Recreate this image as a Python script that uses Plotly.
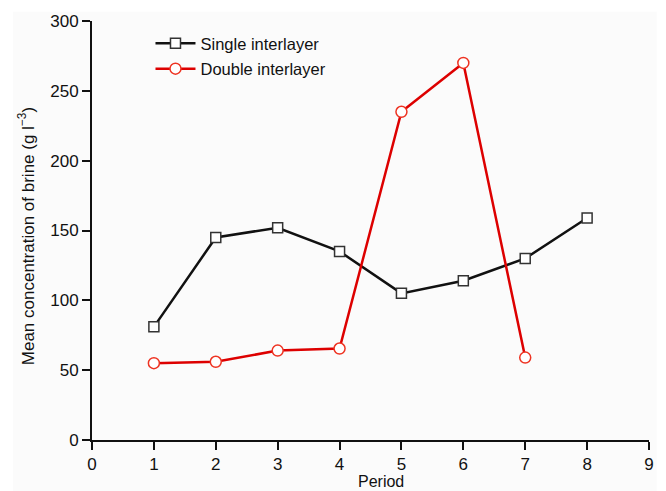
import plotly.graph_objects as go

periods_single = [1, 2, 3, 4, 5, 6, 7, 8]
single = [81, 145, 152, 135, 105, 114, 130, 159]
periods_double = [1, 2, 3, 4, 5, 6, 7]
double = [55, 56, 64, 65.5, 235, 270, 59]
x_ticks = [0, 1, 2, 3, 4, 5, 6, 7, 8, 9]
y_ticks = [0, 50, 100, 150, 200, 250, 300]

fig = go.Figure()
fig.add_trace(go.Scatter(
    x=periods_single, y=single, name="Single interlayer", mode="lines+markers",
    legendgroup="a",
    line=dict(color="#111111", width=2.5),
    marker=dict(symbol="square", size=10, color="white", line=dict(color="#333333", width=1.5)),
))
fig.add_trace(go.Scatter(
    x=periods_double, y=double, name="Double interlayer", mode="lines+markers",
    legendgroup="b",
    line=dict(color="#dd0000", width=2.5),
    marker=dict(symbol="circle", size=11, color="white", line=dict(color="#ee3322", width=1.5)),
))

font = "Liberation Sans, Arial, sans-serif"
fig.update_layout(
    width=666, height=491,
    margin=dict(l=92, r=17, t=21, b=51),
    paper_bgcolor="white", plot_bgcolor="#fbfbfb",
    font=dict(family=font, size=17, color="#111111"),
    showlegend=True,
    legend=dict(x=0.105, y=0.988, xanchor="left", yanchor="top",
                bgcolor="rgba(0,0,0,0)", font=dict(size=16.5), itemwidth=40,
                tracegroupgap=1),
    shapes=[dict(type="rect", xref="paper", yref="paper", x0=-0.142, x1=1.014,
                 y0=-0.125, y1=1.022, fillcolor="#fbfbfb", line=dict(width=0), layer="below")],
    annotations=[
        dict(text="Period", xref="paper", yref="paper", x=0.518, y=-0.1,
             xanchor="center", yanchor="middle", showarrow=False, font=dict(size=16)),
        dict(text="Mean concentration of brine (g l<sup>−3</sup>)", xref="paper", yref="paper",
             x=-0.117, y=0.486, xanchor="center", yanchor="middle", textangle=-90,
             showarrow=False, font=dict(size=17)),
    ],
    xaxis=dict(range=[0, 9], tickvals=x_ticks, showgrid=False, zeroline=False,
               showline=True, linecolor="#111111", linewidth=2, automargin=False,
               ticks="outside", ticklen=8, tickwidth=2, tickcolor="#111111",
               tickfont=dict(size=17)),
    yaxis=dict(range=[0, 300], tickvals=y_ticks, showgrid=False, zeroline=False,
               showline=True, linecolor="#111111", linewidth=2, automargin=False,
               ticks="outside", ticklen=8, tickwidth=2, tickcolor="#111111",
               tickfont=dict(size=17)),
)

fig.write_html("out.html", config={"displayModeBar": False},
               post_script="document.body.style.margin='0';document.body.style.overflow='hidden';")
